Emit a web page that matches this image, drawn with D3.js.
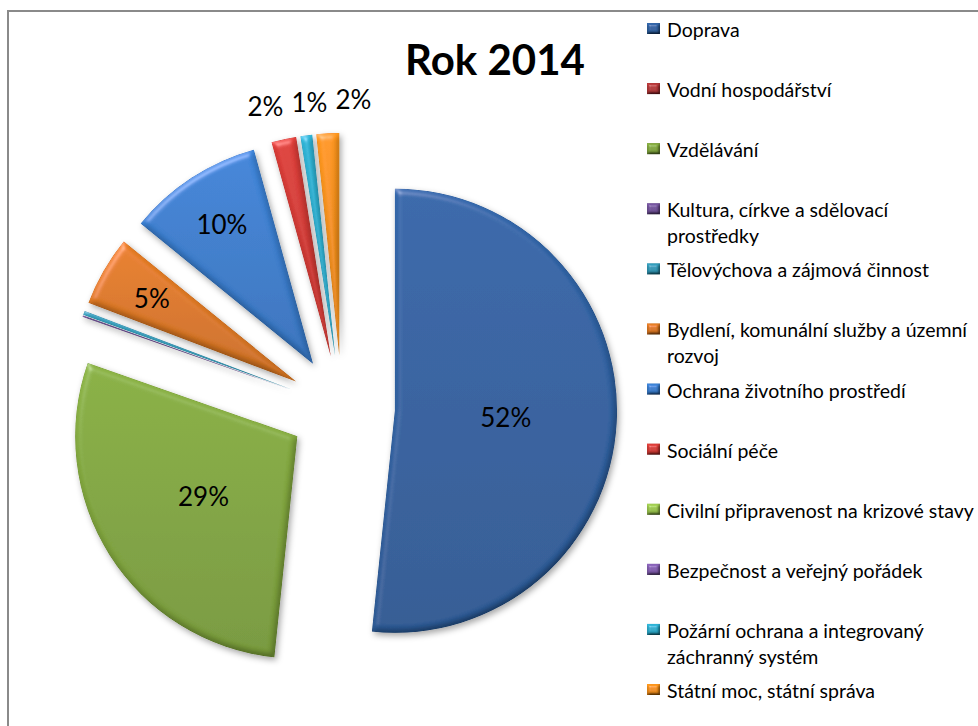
<!DOCTYPE html>
<html>
<head>
<meta charset="utf-8">
<script src="https://cdn.jsdelivr.net/npm/d3@7"></script>
<style>
  html, body { margin: 0; padding: 0; background: #fff; }
  svg { display: block; font-family: Lato, "Open Sans", sans-serif; }
</style>
</head>
<body>
<script>
'use strict';

// Data
const title = 'Rok 2014';
const categories = [
  'Doprava',
  'Vodní hospodářství',
  'Vzdělávání',
  'Kultura, církve a sdělovací prostředky',
  'Tělovýchova a zájmová činnost',
  'Bydlení, komunální služby a územní rozvoj',
  'Ochrana životního prostředí',
  'Sociální péče',
  'Civilní připravenost na krizové stavy',
  'Bezpečnost a veřejný pořádek',
  'Požární ochrana a integrovaný záchranný systém',
  'Státní moc, státní správa'
];
// share of the budget in percent
const values = [51.7, 0, 28.75, 0.1, 0.3, 5.1, 9.85, 1.8, 0, 0, 0.85, 1.65];

// Styles
const palette = [
  '#3062a3', '#b5393a', '#83a93f', '#74549c', '#3199b6', '#e07a24',
  '#3b7fd0', '#d63c37', '#9dc84f', '#8560b3', '#2eafcf', '#f6921c'
];

const width = 978;
const height = 726;
const center = [342, 408];
const radius = 222;
const explode = 53;

const svg = d3.select('body').append('svg')
  .attr('width', width)
  .attr('height', height)
  .attr('viewBox', `0 0 ${width} ${height}`);

const defs = svg.append('defs');

// bevel + soft shadow, roughly like the office "3D" preset
const bevel = (id, blur, shadow) => {
  const f = defs.append('filter')
    .attr('id', id)
    .attr('filterUnits', 'userSpaceOnUse')
    .attr('x', -width).attr('y', -height)
    .attr('width', width * 2).attr('height', height * 2);

  f.append('feGaussianBlur').attr('in', 'SourceAlpha').attr('stdDeviation', blur).attr('result', 'blur');

  f.append('feDiffuseLighting')
    .attr('in', 'blur').attr('surfaceScale', 3).attr('diffuseConstant', 1)
    .attr('lighting-color', '#fff').attr('result', 'diff')
    .append('feDistantLight').attr('azimuth', 240).attr('elevation', 60);

  f.append('feSpecularLighting')
    .attr('in', 'blur').attr('surfaceScale', 3).attr('specularConstant', 0.6)
    .attr('specularExponent', 35).attr('lighting-color', '#fff').attr('result', 'spec')
    .append('feDistantLight').attr('azimuth', 240).attr('elevation', 45);

  f.append('feComposite').attr('in', 'spec').attr('in2', 'SourceAlpha')
    .attr('operator', 'in').attr('result', 'specIn');

  // 1 / sin(60deg) keeps flat areas at their own colour
  f.append('feComposite').attr('in', 'SourceGraphic').attr('in2', 'diff')
    .attr('operator', 'arithmetic')
    .attr('k1', 1.155).attr('k2', 0).attr('k3', 0).attr('k4', 0)
    .attr('result', 'shaded');

  f.append('feComposite').attr('in', 'shaded').attr('in2', 'specIn')
    .attr('operator', 'arithmetic')
    .attr('k1', 0).attr('k2', 1).attr('k3', 0.35).attr('k4', 0)
    .attr('result', 'lit');

  const merge = [];
  if (shadow) {
    f.append('feGaussianBlur').attr('in', 'SourceAlpha').attr('stdDeviation', 3).attr('result', 'sblur');
    f.append('feOffset').attr('in', 'sblur').attr('dx', 2).attr('dy', 3).attr('result', 'soff');
    f.append('feFlood').attr('flood-color', '#000').attr('flood-opacity', 0.35).attr('result', 'sfill');
    f.append('feComposite').attr('in', 'sfill').attr('in2', 'soff').attr('operator', 'in').attr('result', 'shadow');
    merge.push('shadow');
  }
  merge.push('lit');

  f.append('feMerge').selectAll('feMergeNode')
    .data(merge)
    .enter().append('feMergeNode')
    .attr('in', d => d);
};

bevel('bevel', 3, true);
bevel('bevelSmall', 1.5, false);

// one vertical gradient per slice colour
palette.forEach((c, i) => {
  const g = defs.append('linearGradient')
    .attr('id', `grad${i}`)
    .attr('x1', 0).attr('y1', 0).attr('x2', 0).attr('y2', 1);
  g.append('stop').attr('offset', '0%').attr('stop-color', d3.color(c).brighter(0.1));
  g.append('stop').attr('offset', '100%').attr('stop-color', d3.color(c).darker(0.3));
});

// Frame (only top and left edge are in the shot)
svg.append('path')
  .attr('d', `M8,${height} V11 H${width}`)
  .attr('fill', 'none')
  .attr('stroke', '#8a8a8a')
  .attr('stroke-width', 2);

// Pie
const data = categories.map((name, i) => ({ name, value: values[i], index: i }));

const pie = d3.pie()
  .sort(null)
  .value(d => d.value);

const arcs = pie(data).filter(d => d.value > 0);

const arc = d3.arc()
  .innerRadius(0)
  .outerRadius(radius);

const mid = d => (d.startAngle + d.endAngle) / 2;
const offset = (d, r) => [Math.sin(mid(d)) * r, -Math.cos(mid(d)) * r];

const total = d3.sum(values);

const g = svg.append('g')
  .attr('transform', `translate(${center[0]},${center[1]})`);

const slices = g.selectAll('g.slice')
  .data(arcs)
  .enter().append('g')
  .attr('class', 'slice')
  .attr('transform', d => `translate(${offset(d, explode)})`);

slices.append('path')
  .attr('d', arc)
  .attr('fill', d => `url(#grad${d.data.index})`)
  .attr('filter', 'url(#bevel)');

// Labels
const labelled = arcs.filter(d => d.value / total >= 0.005);

const labelPos = d => {
  const span = d.endAngle - d.startAngle;
  const share = d.value / total;
  let r;
  if (span > Math.PI / 2) r = radius * 0.5;
  else if (share >= 0.03) r = radius * 0.75;
  else r = radius + 34;
  const e = offset(d, explode);
  const p = offset(d, r);
  return { d, x: e[0] + p[0], y: e[1] + p[1], outside: share < 0.03 };
};

const labels = labelled.map(labelPos);

// push outside labels apart so they don't overlap
const outside = labels.filter(l => l.outside).sort((a, b) => a.x - b.x);
for (let k = 0; k < 50; k++) {
  for (let i = 1; i < outside.length; i++) {
    const gap = outside[i].x - outside[i - 1].x;
    if (gap < 44) {
      const shift = (44 - gap) / 2;
      outside[i].x += shift;
      outside[i - 1].x -= shift;
    }
  }
}
outside.forEach(l => { l.x += 8; });

g.selectAll('text.label')
  .data(labels)
  .enter().append('text')
  .attr('class', 'label')
  .attr('x', l => l.x)
  .attr('y', l => l.y)
  .attr('text-anchor', 'middle')
  .attr('dominant-baseline', 'central')
  .style('font-size', '26px')
  .style('fill', '#000')
  .text(l => `${Math.round(l.d.value / total * 100)}%`);

// Title
svg.append('text')
  .attr('x', 495)
  .attr('y', 75)
  .attr('text-anchor', 'middle')
  .style('font-size', '42px')
  .style('font-weight', 'bold')
  .text(title);

// Legend
const legendY = d3.scaleLinear()
  .domain([0, categories.length - 1])
  .range([29, 690]);

const legend = svg.append('g').attr('class', 'legend');

const items = legend.selectAll('g')
  .data(categories)
  .enter().append('g')
  .attr('transform', (_d, i) => `translate(647,${legendY(i)})`);

items.append('rect')
  .attr('x', 0)
  .attr('y', -6)
  .attr('width', 13)
  .attr('height', 11)
  .attr('fill', (_d, i) => `url(#grad${i})`)
  .attr('filter', 'url(#bevelSmall)');

const maxLine = 313;

items.append('text')
  .attr('x', 20)
  .attr('y', 0)
  .attr('dominant-baseline', 'central')
  .style('font-size', '19.5px')
  .each(function (name) {
    const text = d3.select(this);
    const words = name.split(' ');
    let line = [];
    let tspan = text.append('tspan').attr('x', 20).attr('dy', 0);
    words.forEach(w => {
      line.push(w);
      tspan.text(line.join(' '));
      if (tspan.node().getComputedTextLength() > maxLine && line.length > 1) {
        line.pop();
        tspan.text(line.join(' '));
        line = [w];
        tspan = text.append('tspan').attr('x', 20).attr('dy', 26).text(w);
      }
    });
  });
</script>
</body>
</html>
